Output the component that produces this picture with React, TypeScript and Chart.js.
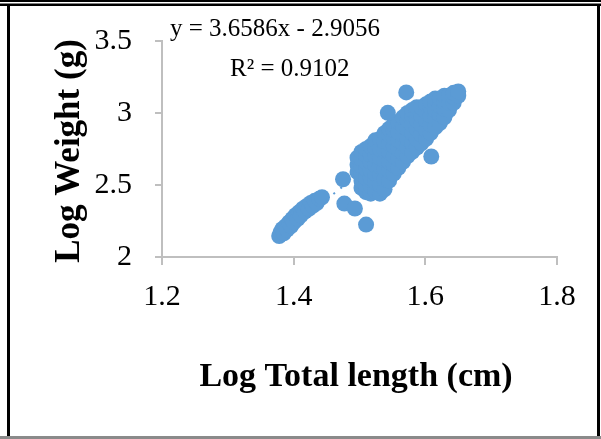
import React, { useEffect, useRef } from 'react';
import { Chart, registerables } from 'chart.js';

Chart.register(...registerables);

// Log total length (cm) of each fish
const logLength: number[] = [
  // small fish group
  1.378, 1.380, 1.383, 1.385, 1.388, 1.390, 1.393, 1.396, 1.398, 1.400, 1.403, 1.406,
  1.408, 1.411, 1.414, 1.417, 1.420, 1.423, 1.426, 1.429, 1.432, 1.435, 1.439, 1.443,
  // scattered middle fish
  1.475, 1.477, 1.493, 1.510,
  // main group
  1.497, 1.497, 1.497,
  1.503, 1.503, 1.503, 1.503, 1.503, 1.503,
  1.510, 1.510, 1.510, 1.510, 1.510, 1.510, 1.510,
  1.517, 1.517, 1.517, 1.517, 1.517, 1.517, 1.517,
  1.524, 1.524, 1.524, 1.524, 1.524, 1.524, 1.524,
  1.531, 1.531, 1.531, 1.531, 1.531, 1.531, 1.531,
  1.538, 1.538, 1.538, 1.538, 1.538, 1.538, 1.538,
  1.545, 1.545, 1.545, 1.545, 1.545, 1.545, 1.545,
  1.552, 1.552, 1.552, 1.552, 1.552, 1.552, 1.552,
  1.559, 1.559, 1.559, 1.559, 1.559, 1.559,
  1.566, 1.566, 1.566, 1.566, 1.566, 1.566,
  1.573, 1.573, 1.573, 1.573, 1.573, 1.573,
  1.580, 1.580, 1.580, 1.580, 1.580, 1.580,
  1.587, 1.587, 1.587, 1.587, 1.587, 1.587,
  1.594, 1.594, 1.594, 1.594, 1.594,
  1.601, 1.601, 1.601, 1.601, 1.601,
  1.608, 1.608, 1.608, 1.608, 1.608,
  1.615, 1.615, 1.615, 1.615, 1.615,
  1.622, 1.622, 1.622, 1.622,
  1.629, 1.629, 1.629, 1.629,
  1.636, 1.636, 1.636,
  1.643, 1.643, 1.643,
  1.650, 1.650,
  // outliers
  1.609, 1.543, 1.571,
];

// Log weight (g) of each fish, same order as logLength
const logWeight: number[] = [
  2.145, 2.170, 2.195, 2.165, 2.215, 2.190, 2.240, 2.215, 2.265, 2.240, 2.290, 2.265,
  2.310, 2.290, 2.335, 2.315, 2.355, 2.335, 2.375, 2.355, 2.390, 2.375, 2.405, 2.415,
  2.540, 2.371, 2.337, 2.225,
  2.59, 2.64, 2.69,
  2.48, 2.53, 2.58, 2.63, 2.68, 2.73,
  2.45, 2.50, 2.55, 2.61, 2.66, 2.71, 2.75,
  2.44, 2.49, 2.55, 2.60, 2.66, 2.71, 2.77,
  2.46, 2.52, 2.58, 2.64, 2.70, 2.76, 2.81,
  2.44, 2.50, 2.57, 2.63, 2.69, 2.75, 2.82,
  2.47, 2.54, 2.61, 2.67, 2.74, 2.80, 2.86,
  2.53, 2.60, 2.66, 2.73, 2.79, 2.85, 2.89,
  2.58, 2.64, 2.70, 2.77, 2.83, 2.88, 2.92,
  2.62, 2.68, 2.75, 2.81, 2.87, 2.94,
  2.66, 2.72, 2.79, 2.85, 2.91, 2.97,
  2.70, 2.76, 2.82, 2.89, 2.95, 3.00,
  2.73, 2.79, 2.86, 2.92, 2.98, 3.02,
  2.76, 2.82, 2.89, 2.95, 3.01, 3.04,
  2.79, 2.85, 2.92, 2.98, 3.04,
  2.82, 2.88, 2.95, 3.01, 3.06,
  2.86, 2.92, 2.98, 3.04, 3.08,
  2.90, 2.96, 3.02, 3.07, 3.10,
  2.93, 2.99, 3.05, 3.10,
  2.97, 3.03, 3.08, 3.12,
  3.02, 3.07, 3.12,
  3.07, 3.11, 3.14,
  3.12, 3.15,
  2.698, 3.001, 3.143,
];

// Linear trendline end points (y = 3.6586x - 2.9056)
const trendLength: number[] = [1.375, 1.655];
const trendWeight: number[] = [2.125, 3.150];

const xTickValues: number[] = [1.2, 1.4, 1.6, 1.8];
const yTickValues: number[] = [2, 2.5, 3, 3.5];

const equationText = 'y = 3.6586x - 2.9056';
const r2Text = 'R\u00B2 = 0.9102';
const xTitle = 'Log Total length (cm)';
const yTitle = 'Log Weight (g)';

const SERIF = "'Liberation Serif', 'Times New Roman', serif";
const BLUE = '#5b9bd5';
const AXIS = '#bfbfbf';

const decorPlugin = {
  id: 'decor',
  afterDraw(chart: any) {
    const ctx = chart.ctx as CanvasRenderingContext2D;
    const W = chart.width;
    const H = chart.height;
    ctx.save();
    // frame
    ctx.fillStyle = '#000';
    ctx.fillRect(0, 0, W, 2);
    ctx.fillRect(0, 3.5, W, 2.5);
    ctx.fillRect(7, 6, 3, H - 9);
    ctx.fillRect(W - 4, 6, 3, H - 9);
    ctx.fillStyle = '#8a8a8a';
    ctx.fillRect(0, H - 3, W, 3);

    // equation
    ctx.fillStyle = '#000';
    ctx.textAlign = 'left';
    ctx.textBaseline = 'alphabetic';
    ctx.font = `25px ${SERIF}`;
    ctx.fillText(equationText, 170, 36);
    ctx.fillText(r2Text, 230, 76);

    // axis titles
    ctx.font = `bold 34px ${SERIF}`;
    ctx.textAlign = 'center';
    ctx.fillText(xTitle, 356, 386);
    ctx.save();
    ctx.font = `bold 35px ${SERIF}`;
    ctx.translate(79, 151);
    ctx.rotate(-Math.PI / 2);
    ctx.fillText(yTitle, 0, 0);
    ctx.restore();
    ctx.restore();
  },
};

export default function App() {
  const ref = useRef<HTMLCanvasElement | null>(null);

  useEffect(() => {
    if (!ref.current) return;
    const points = logLength.map((x, i) => ({ x, y: logWeight[i] }));
    const trend = trendLength.map((x, i) => ({ x, y: trendWeight[i] }));
    const chart = new Chart(ref.current, {
      type: 'scatter',
      data: {
        datasets: [
          {
            label: 'Log Weight',
            data: points,
            backgroundColor: BLUE,
            borderWidth: 0,
            pointRadius: 8,
            order: 0,
          },
          {
            type: 'line',
            label: 'Linear trend',
            data: trend,
            borderColor: BLUE,
            borderWidth: 2,
            borderDash: [2, 7],
            pointRadius: 0,
            fill: false,
            order: 1,
          } as any,
        ],
      },
      options: {
        responsive: false,
        animation: false,
        events: [],
        layout: { padding: { left: 0, top: 34, right: 44, bottom: 0 } },
        plugins: {
          legend: { display: false },
          tooltip: { enabled: false },
          title: { display: false },
        },
        scales: {
          x: {
            type: 'linear',
            min: 1.2,
            max: 1.8,
            afterBuildTicks: (s: any) => {
              s.ticks = xTickValues.map((v) => ({ value: v }));
            },
            afterFit: (s: any) => {
              s.height = 182;
            },
            ticks: {
              color: '#000',
              font: { family: SERIF, size: 30 },
              padding: 14,
              callback: (v: any) => String(Number(Number(v).toFixed(1))),
            },
            grid: {
              drawOnChartArea: false,
              drawTicks: true,
              tickLength: 8,
              color: AXIS,
              lineWidth: 2,
            },
            border: { display: true, color: AXIS, width: 2 },
          },
          y: {
            type: 'linear',
            min: 2,
            max: 3.5,
            afterBuildTicks: (s: any) => {
              s.ticks = yTickValues.map((v) => ({ value: v }));
            },
            afterFit: (s: any) => {
              s.width = 162;
            },
            ticks: {
              color: '#000',
              font: { family: SERIF, size: 30 },
              padding: 23,
              callback: (v: any) => String(Number(Number(v).toFixed(1))),
            },
            grid: {
              drawOnChartArea: false,
              drawTicks: true,
              tickLength: 7,
              color: AXIS,
              lineWidth: 2,
            },
            border: { display: true, color: AXIS, width: 2 },
          },
        },
      },
      plugins: [decorPlugin],
    });
    return () => chart.destroy();
  }, []);

  return (
    <div style={{ position: 'absolute', left: 0, top: 0, width: 601, height: 439, background: '#fff' }}>
      <canvas ref={ref} width={601} height={439} style={{ display: 'block' }} />
    </div>
  );
}
